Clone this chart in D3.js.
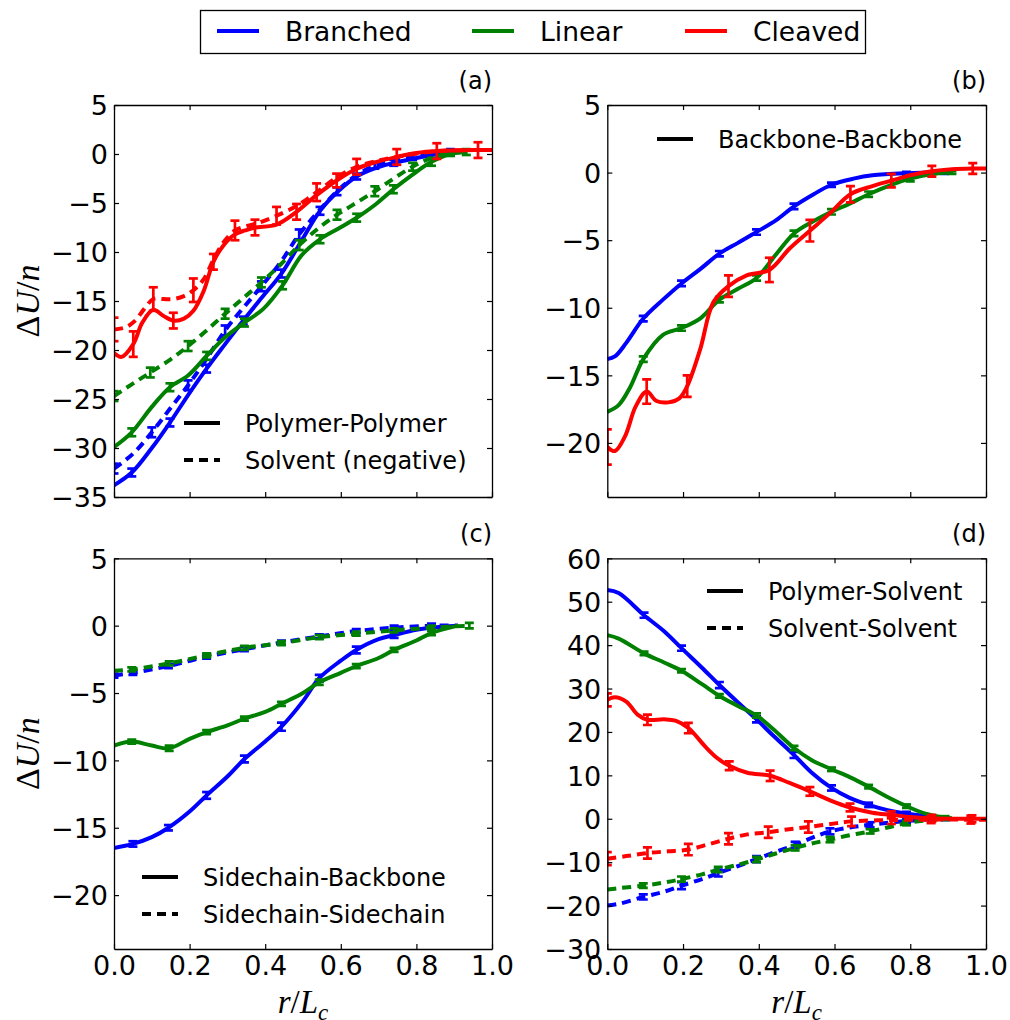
<!DOCTYPE html>
<html>
<head>
<meta charset="utf-8">
<script src="https://cdn.jsdelivr.net/npm/d3@7"></script>
<style>
  body { margin: 0; background: #fff; }
  svg text { font-family: "DejaVu Sans", sans-serif; fill: #000; }
</style>
</head>
<body>
<svg id="fig" width="1010" height="1020"></svg>
<script>
// Series shared by all panels
const seriesNames = ["Branched", "Linear", "Cleaved"];
const seriesColors = ["#0000ff", "#008000", "#ff0000"];

// Tick values
const xTicks = [0, 0.2, 0.4, 0.6, 0.8, 1.0];
const yTicksA = [-35, -30, -25, -20, -15, -10, -5, 0, 5];
const yTicksBC = [-20, -15, -10, -5, 0, 5];
const yTicksD = [-30, -20, -10, 0, 10, 20, 30, 40, 50, 60];

// Each point: [r/Lc, ΔU/n, error (null = no error bar drawn)]
// (a) Polymer-Polymer (solid) and Solvent, negated (dashed)
const aBranchedPoly = [[0,-33.8,null],[0.047,-32.5,0.4],[0.1,-30.0,null],[0.148,-27.4,0.4],[0.196,-24.6,null],[0.245,-21.9,0.4],[0.294,-19.4,null],[0.342,-17.0,0.4],[0.39,-14.7,null],[0.443,-12.2,0.4],[0.497,-8.8,null],[0.545,-5.8,0.4],[0.593,-3.8,null],[0.642,-2.3,0.3],[0.695,-1.4,null],[0.74,-0.9,0.3],[0.79,-0.5,null],[0.84,-0.1,0.3],[0.89,0.2,null]];
const aBranchedSolv = [[0,-32.1,0.5],[0.05,-30.6,null],[0.1,-28.4,0.5],[0.148,-26.0,null],[0.196,-23.6,0.5],[0.245,-20.9,null],[0.294,-18.0,0.5],[0.342,-15.7,null],[0.39,-13.5,0.5],[0.44,-11.1,null],[0.49,-8.2,0.5],[0.54,-5.9,null],[0.59,-3.8,0.4],[0.64,-2.2,null],[0.69,-1.2,0.3],[0.79,-0.3,0.3],[0.89,0.2,0.3]];
const aLinearPoly = [[0,-29.9,null],[0.047,-28.4,0.4],[0.1,-25.8,null],[0.148,-23.8,0.4],[0.196,-22.6,null],[0.245,-20.6,0.4],[0.294,-18.7,null],[0.345,-17.2,0.4],[0.395,-15.8,null],[0.446,-13.4,0.4],[0.497,-10.3,null],[0.545,-8.7,0.4],[0.594,-7.6,null],[0.642,-6.5,0.4],[0.69,-5.2,null],[0.739,-3.6,0.4],[0.79,-2.1,null],[0.84,-0.8,0.4],[0.89,0.0,null],[0.932,0.2,0.3]];
const aLinearSolv = [[0,-24.7,0.5],[0.047,-23.5,null],[0.096,-22.3,0.5],[0.148,-21.0,null],[0.196,-19.6,0.5],[0.245,-18.0,null],[0.294,-16.3,0.5],[0.342,-14.7,null],[0.39,-13.1,0.5],[0.44,-11.3,null],[0.49,-9.3,0.5],[0.54,-7.6,null],[0.59,-6.2,0.5],[0.64,-5.0,null],[0.69,-3.8,0.5],[0.74,-2.5,null],[0.79,-1.3,0.4],[0.84,-0.4,null],[0.89,0.1,0.3],[0.93,0.2,null]];
const aCleavedPoly = [[0,-20.3,null],[0.02,-20.7,null],[0.051,-19.4,1.3],[0.075,-17.2,null],[0.104,-15.9,null],[0.13,-16.5,null],[0.157,-17.0,0.8],[0.185,-16.8,null],[0.21,-16.0,null],[0.237,-14.0,null],[0.263,-11.0,0.8],[0.29,-9.3,null],[0.32,-8.2,null],[0.347,-7.8,null],[0.373,-7.5,0.8],[0.43,-7.2,null],[0.483,-5.9,0.8],[0.536,-4.2,null],[0.589,-2.7,0.7],[0.642,-1.5,null],[0.695,-0.8,null],[0.748,-0.3,0.8],[0.8,0.1,null],[0.854,0.3,null],[0.963,0.4,0.8],[1.0,0.4,null]];
const aCleavedSolv = [[0,-17.9,1.2],[0.03,-17.7,null],[0.056,-17.0,null],[0.08,-15.8,null],[0.104,-14.8,1.2],[0.13,-14.8,null],[0.157,-14.8,null],[0.185,-14.5,null],[0.21,-13.9,1.2],[0.237,-12.8,null],[0.263,-10.8,null],[0.29,-9.0,null],[0.32,-7.8,1.0],[0.347,-7.4,null],[0.377,-7.1,null],[0.43,-6.3,0.9],[0.483,-5.3,null],[0.536,-3.9,0.9],[0.589,-2.4,null],[0.642,-1.3,0.8],[0.695,-0.7,null],[0.748,-0.3,null],[0.854,0.3,0.8],[0.96,0.4,null],[1.0,0.4,null]];

// (b) Backbone-Backbone
const bBranched = [[0,-13.8,null],[0.02,-13.6,null],[0.05,-12.6,null],[0.095,-10.8,0.2],[0.147,-9.4,null],[0.196,-8.2,0.2],[0.247,-7.1,null],[0.296,-6.0,0.2],[0.345,-5.2,null],[0.394,-4.4,0.2],[0.447,-3.5,null],[0.493,-2.5,0.2],[0.545,-1.6,null],[0.592,-0.9,0.15],[0.65,-0.45,null],[0.7,-0.2,null],[0.79,-0.05,0.1],[0.89,0.0,0.1]];
const bLinear = [[0,-17.7,null],[0.03,-17.2,null],[0.06,-15.9,null],[0.095,-13.8,0.2],[0.147,-12.0,null],[0.196,-11.5,0.2],[0.245,-10.8,null],[0.296,-9.4,0.2],[0.345,-8.6,null],[0.394,-7.8,0.2],[0.447,-6.0,null],[0.493,-4.5,0.2],[0.544,-3.6,null],[0.592,-2.9,0.2],[0.64,-2.3,null],[0.69,-1.6,0.2],[0.75,-0.9,null],[0.8,-0.45,0.2],[0.86,-0.1,null],[0.91,0.0,0.1]];
const bCleaved = [[0,-20.3,1.3],[0.02,-20.6,null],[0.047,-19.5,null],[0.075,-17.3,null],[0.104,-16.2,0.9],[0.13,-16.9,null],[0.161,-17.0,null],[0.19,-16.7,null],[0.211,-15.8,0.8],[0.245,-13.1,null],[0.28,-9.6,null],[0.32,-8.4,0.8],[0.368,-7.6,null],[0.428,-7.2,0.9],[0.482,-5.6,null],[0.535,-4.3,0.8],[0.588,-3.0,null],[0.642,-1.6,0.6],[0.7,-1.0,null],[0.75,-0.6,0.5],[0.8,-0.2,null],[0.857,0.1,0.4],[0.91,0.25,null],[0.965,0.3,0.4],[1.0,0.3,null]];

// (c) Sidechain-Backbone (solid) and Sidechain-Sidechain (dashed)
const cBranchedSB = [[0,-16.5,null],[0.05,-16.2,0.2],[0.1,-15.7,null],[0.144,-15.0,0.2],[0.2,-13.8,null],[0.245,-12.6,0.25],[0.3,-11.2,null],[0.345,-9.9,0.25],[0.4,-8.6,null],[0.443,-7.5,0.3],[0.5,-5.6,null],[0.543,-3.9,0.25],[0.6,-2.6,null],[0.641,-1.8,0.25],[0.7,-1.0,null],[0.741,-0.7,0.2],[0.8,-0.3,null],[0.84,-0.15,0.15],[0.91,0.0,null]];
const cLinearSB = [[0,-8.9,null],[0.047,-8.6,0.15],[0.1,-8.9,null],[0.146,-9.1,0.2],[0.2,-8.4,null],[0.245,-7.9,0.15],[0.3,-7.4,null],[0.345,-6.9,0.15],[0.4,-6.4,null],[0.443,-5.8,0.15],[0.5,-5.0,null],[0.543,-4.2,0.2],[0.6,-3.5,null],[0.641,-3.0,0.15],[0.7,-2.4,null],[0.741,-1.8,0.15],[0.8,-1.1,null],[0.84,-0.55,0.15],[0.91,0.0,null]];
const cBranchedSS = [[0,-3.7,0.15],[0.05,-3.5,0.15],[0.144,-3.0,0.15],[0.245,-2.3,0.15],[0.345,-1.75,0.15],[0.443,-1.25,0.15],[0.543,-0.8,0.15],[0.641,-0.4,0.15],[0.741,-0.15,0.15],[0.84,0.0,0.15],[0.91,0.0,null]];
const cLinearSS = [[0,-3.35,null],[0.047,-3.25,0.15],[0.146,-2.8,0.15],[0.245,-2.2,0.15],[0.345,-1.65,0.15],[0.443,-1.3,0.15],[0.543,-0.85,0.15],[0.641,-0.6,0.15],[0.741,-0.35,0.15],[0.84,-0.15,0.15],[0.94,0.0,0.2]];

// (d) Polymer-Solvent (solid) and Solvent-Solvent (dashed)
const dBranchedPS = [[0,52.7,null],[0.03,52.0,null],[0.097,46.9,0.6],[0.15,43.2,null],[0.196,39.3,0.6],[0.25,34.8,null],[0.296,30.8,0.7],[0.345,26.8,null],[0.394,22.9,0.7],[0.44,19.0,null],[0.493,14.7,0.7],[0.54,10.6,null],[0.592,7.1,0.6],[0.64,4.8,null],[0.69,3.2,0.5],[0.74,2.0,null],[0.79,1.2,0.4],[0.892,0.15,null]];
const dLinearPS = [[0,42.3,null],[0.03,41.5,null],[0.097,38.1,0.4],[0.15,36.0,null],[0.196,34.1,0.4],[0.25,31.0,null],[0.296,28.3,0.4],[0.345,26.0,null],[0.394,23.8,0.5],[0.44,20.5,null],[0.493,16.3,0.5],[0.54,13.5,null],[0.592,11.4,0.4],[0.64,9.6,null],[0.69,7.4,0.4],[0.74,5.0,null],[0.79,2.9,0.4],[0.84,1.2,null],[0.892,0.3,0.3],[0.91,0.1,null]];
const dCleavedPS = [[0,27.4,1.5],[0.02,28.0,null],[0.05,27.0,null],[0.08,24.0,null],[0.106,22.8,1.2],[0.15,22.9,null],[0.18,22.6,null],[0.214,20.9,1.2],[0.26,16.5,null],[0.29,14.0,null],[0.322,12.2,1.0],[0.37,10.6,null],[0.43,9.9,1.2],[0.48,8.3,null],[0.535,6.3,1.0],[0.59,4.2,null],[0.641,2.6,0.9],[0.7,1.4,null],[0.75,0.9,0.8],[0.8,0.4,null],[0.857,0.1,0.8],[0.91,0.0,null],[0.963,0.0,0.8],[1.0,0.0,null]];
const dBranchedSS = [[0,-20.0,null],[0.03,-19.6,null],[0.095,-18.0,0.6],[0.15,-16.8,null],[0.196,-15.4,0.8],[0.25,-13.9,null],[0.293,-12.5,0.8],[0.345,-10.9,null],[0.394,-9.3,0.7],[0.445,-7.6,null],[0.496,-6.0,0.7],[0.54,-4.4,null],[0.588,-2.9,0.7],[0.64,-2.0,null],[0.694,-1.4,0.6],[0.79,-0.5,0.5],[0.892,0.0,0.3]];
const dLinearSS = [[0,-16.3,null],[0.03,-16.0,null],[0.095,-15.4,0.5],[0.15,-14.7,null],[0.196,-13.9,0.6],[0.25,-12.8,null],[0.293,-11.7,0.6],[0.345,-10.6,null],[0.394,-9.4,0.6],[0.445,-8.0,null],[0.496,-6.7,0.6],[0.54,-5.7,null],[0.588,-4.8,0.6],[0.64,-3.8,null],[0.694,-2.9,0.5],[0.74,-2.0,null],[0.79,-1.0,0.5],[0.84,-0.4,null],[0.892,0.0,0.3]];
const dCleavedSS = [[0,-9.2,1.5],[0.05,-8.6,null],[0.106,-7.9,1.3],[0.16,-7.5,null],[0.214,-7.1,1.3],[0.27,-5.8,null],[0.32,-4.6,1.3],[0.37,-3.6,null],[0.425,-3.1,1.3],[0.48,-2.4,null],[0.531,-1.9,1.3],[0.59,-1.2,null],[0.645,-0.6,1.1],[0.75,-0.3,0.9],[0.855,-0.2,0.8],[0.96,-0.2,0.9],[1.0,-0.2,null]];

// Panel layout and contents
const panels = [
  { tag: "(a)", left: 114, right: 492, top: 105, bottom: 497, yDomain: [-35, 5], yTicks: yTicksA,
    xLabels: false, yLabel: true,
    curves: [
      { data: aBranchedPoly, s: 0, dash: false }, { data: aBranchedSolv, s: 0, dash: true },
      { data: aLinearPoly, s: 1, dash: false }, { data: aLinearSolv, s: 1, dash: true },
      { data: aCleavedPoly, s: 2, dash: false }, { data: aCleavedSolv, s: 2, dash: true } ],
    legend: { x: 184, y: 423, items: [["Polymer-Polymer", false], ["Solvent (negative)", true]] } },
  { tag: "(b)", left: 607.3, right: 986, top: 105, bottom: 497, yDomain: [-24, 5], yTicks: yTicksBC,
    xLabels: false, yLabel: false,
    curves: [
      { data: bBranched, s: 0, dash: false }, { data: bLinear, s: 1, dash: false },
      { data: bCleaved, s: 2, dash: false } ],
    legend: { x: 657, y: 139, items: [["Backbone-Backbone", false]] } },
  { tag: "(c)", left: 114, right: 492, top: 558.3, bottom: 949, yDomain: [-24, 5], yTicks: yTicksBC,
    xLabels: true, yLabel: true,
    curves: [
      { data: cBranchedSB, s: 0, dash: false }, { data: cBranchedSS, s: 0, dash: true },
      { data: cLinearSB, s: 1, dash: false }, { data: cLinearSS, s: 1, dash: true } ],
    legend: { x: 142, y: 877, items: [["Sidechain-Backbone", false], ["Sidechain-Sidechain", true]] } },
  { tag: "(d)", left: 607.3, right: 986, top: 558.3, bottom: 949, yDomain: [-30, 60], yTicks: yTicksD,
    xLabels: true, yLabel: false,
    curves: [
      { data: dBranchedPS, s: 0, dash: false }, { data: dBranchedSS, s: 0, dash: true },
      { data: dLinearPS, s: 1, dash: false }, { data: dLinearSS, s: 1, dash: true },
      { data: dCleavedPS, s: 2, dash: false }, { data: dCleavedSS, s: 2, dash: true } ],
    legend: { x: 707, y: 591, items: [["Polymer-Solvent", false], ["Solvent-Solvent", true]] } }
];

const fig = d3.select("#fig");
const defs = fig.append("defs");
const DASH = "9,6";
const LINE_W = 4;
const fmtY = v => (v < 0 ? "\u2212" : "") + Math.abs(v);
const fmtX = d3.format(".1f");

panels.forEach((p, i) => {
  const x = d3.scaleLinear().domain([0, 1]).range([p.left, p.right]);
  const y = d3.scaleLinear().domain(p.yDomain).range([p.bottom, p.top]);
  const g = fig.append("g");

  const clipId = "clip" + i;
  defs.append("clipPath").attr("id", clipId).append("rect")
    .attr("x", p.left).attr("y", p.top)
    .attr("width", p.right - p.left).attr("height", p.bottom - p.top);
  const plot = g.append("g").attr("clip-path", `url(#${clipId})`);

  const line = d3.line()
    .x(d => x(d[0])).y(d => y(d[1]))
    .curve(d3.curveCatmullRom.alpha(0.5));

  p.curves.forEach(c => {
    const col = seriesColors[c.s];
    plot.append("path").datum(c.data)
      .attr("d", line).attr("fill", "none")
      .attr("stroke", col).attr("stroke-width", LINE_W)
      .attr("stroke-dasharray", c.dash ? DASH : null);

    const bars = c.data.filter(d => d[2] != null);
    const eb = plot.append("g").attr("stroke", col).attr("stroke-width", 2.7).attr("fill", "none");
    eb.selectAll("line.v").data(bars).join("line").attr("class", "v")
      .attr("x1", d => x(d[0])).attr("x2", d => x(d[0]))
      .attr("y1", d => y(d[1] - d[2])).attr("y2", d => y(d[1] + d[2]));
    eb.selectAll("line.t").data(bars).join("line").attr("class", "t")
      .attr("x1", d => x(d[0]) - 4.5).attr("x2", d => x(d[0]) + 4.5)
      .attr("y1", d => y(d[1] + d[2])).attr("y2", d => y(d[1] + d[2]));
    eb.selectAll("line.b").data(bars).join("line").attr("class", "b")
      .attr("x1", d => x(d[0]) - 4.5).attr("x2", d => x(d[0]) + 4.5)
      .attr("y1", d => y(d[1] - d[2])).attr("y2", d => y(d[1] - d[2]));
  });

  // Frame with inward ticks on all four sides
  const axes = [
    { gen: d3.axisLeft(y).tickValues(p.yTicks).tickFormat(fmtY), tr: `translate(${p.left},0)` },
    { gen: d3.axisRight(y).tickValues(p.yTicks).tickFormat(""), tr: `translate(${p.right},0)` },
    { gen: d3.axisBottom(x).tickValues(xTicks).tickFormat(p.xLabels ? fmtX : ""), tr: `translate(0,${p.bottom})`, bottom: true },
    { gen: d3.axisTop(x).tickValues(xTicks).tickFormat(""), tr: `translate(0,${p.top})` }
  ];
  axes.forEach(a => {
    a.gen.tickSizeInner(-5).tickSizeOuter(0).tickPadding(a.bottom ? 7 : 6);
    const ag = g.append("g").attr("transform", a.tr).call(a.gen);
    ag.attr("font-family", null).attr("font-size", null);
    ag.select(".domain").attr("stroke", "#000").attr("stroke-width", 1.3);
    ag.selectAll(".tick line").attr("stroke", "#000").attr("stroke-width", 1.2);
    ag.selectAll(".tick text").style("font-size", "27px").attr("fill", "#000");
    if (!a.bottom) ag.selectAll(".tick text").attr("dy", "0.36em");
  });

  // Panel tag
  g.append("text").attr("x", p.right).attr("y", p.top - 16.5)
    .attr("text-anchor", "end").style("font-size", "24px").text(p.tag);

  // Line-style legend
  p.legend.items.forEach(([label, dashed], k) => {
    const ly = p.legend.y + k * 37;
    g.append("line")
      .attr("x1", p.legend.x).attr("x2", p.legend.x + 36)
      .attr("y1", ly).attr("y2", ly)
      .attr("stroke", "#000").attr("stroke-width", LINE_W)
      .attr("stroke-dasharray", dashed ? DASH : null);
    g.append("text").attr("x", p.legend.x + 61).attr("y", ly + 8.5)
      .style("font-size", "24px").text(label);
  });

  // Axis titles
  const cx = (p.left + p.right) / 2, cy = (p.top + p.bottom) / 2;
  if (p.yLabel) {
    const t = g.append("text")
      .attr("transform", `translate(39,${cy}) rotate(-90)`)
      .attr("text-anchor", "middle")
      .style("font-family", "'Liberation Serif', serif").style("font-size", "34px");
    t.append("tspan").text("\u0394");
    t.append("tspan").style("font-style", "italic").text("U");
    t.append("tspan").text("/");
    t.append("tspan").style("font-style", "italic").text("n");
  }
  if (p.xLabels) {
    const t = g.append("text")
      .attr("x", cx).attr("y", 1013)
      .attr("text-anchor", "middle")
      .style("font-family", "'Liberation Serif', serif").style("font-size", "33px");
    t.append("tspan").style("font-style", "italic").text("r");
    t.append("tspan").text("/");
    t.append("tspan").style("font-style", "italic").text("L");
    t.append("tspan").style("font-style", "italic").style("font-size", "23px").attr("dy", 7).text("c");
  }
});

// Series legend across the top
const keyG = fig.append("g");
keyG.append("rect").attr("x", 200.5).attr("y", 10.5).attr("width", 665).attr("height", 43)
  .attr("fill", "#fff").attr("stroke", "#000").attr("stroke-width", 1.3);
const keyX = [217, 472, 685];
seriesNames.forEach((name, k) => {
  keyG.append("line").attr("x1", keyX[k]).attr("x2", keyX[k] + 42)
    .attr("y1", 31).attr("y2", 31)
    .attr("stroke", seriesColors[k]).attr("stroke-width", LINE_W);
  keyG.append("text").attr("x", keyX[k] + 68).attr("y", 40.5)
    .style("font-size", "26.5px").text(name);
});
</script>
</body>
</html>
